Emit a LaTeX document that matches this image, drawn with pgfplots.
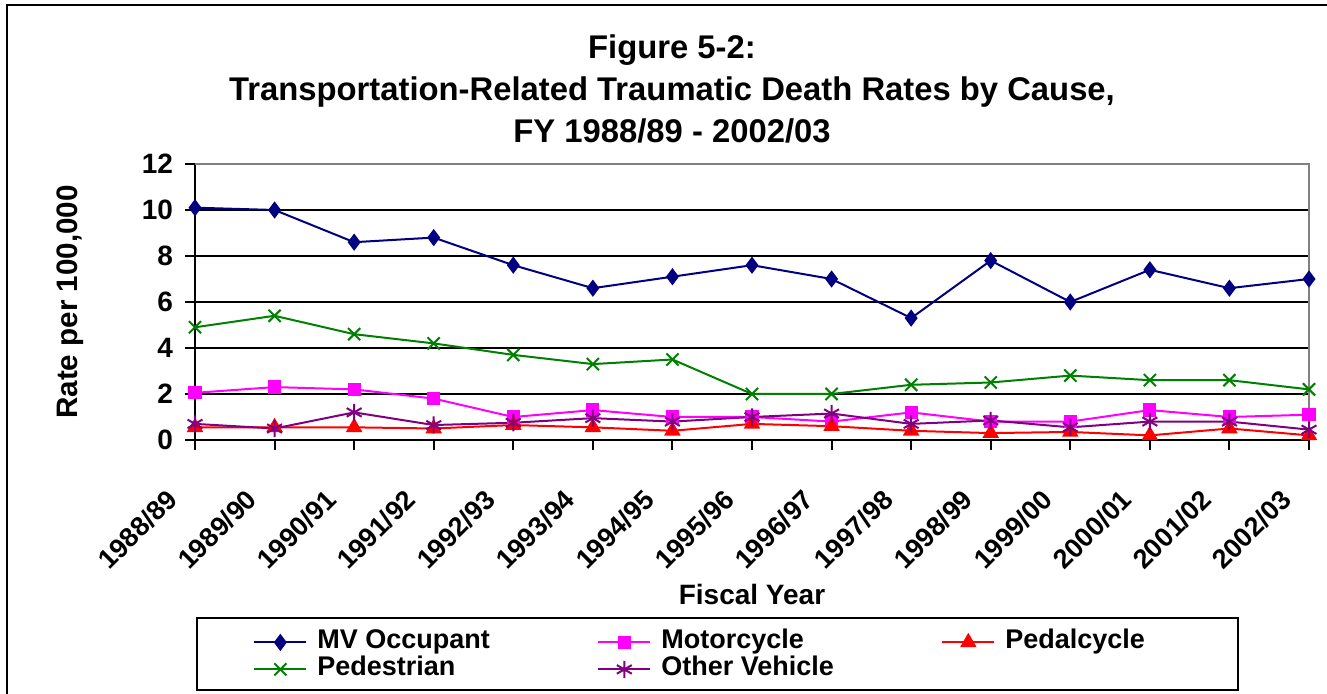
\documentclass[border=0pt]{standalone}
\usepackage{fontspec}
\setmainfont{Liberation Sans}
\usepackage{pgfplots}
\pgfplotsset{compat=1.18}
\definecolor{mvnavy}{HTML}{000080}
\definecolor{motomag}{HTML}{FF00FF}
\definecolor{pedred}{HTML}{FF0000}
\definecolor{walkgreen}{HTML}{008000}
\definecolor{othpurple}{HTML}{800080}

\begin{document}
\begin{tikzpicture}
\useasboundingbox (0,0) rectangle (663.5pt,347pt);
% outer chart frame (cut at right and bottom)
\draw[line width=1pt] (3.5pt,-5pt) -- (3.5pt,344.5pt) -- (670pt,344.5pt);
\node[align=center, font=\fontsize{16.4}{21}\selectfont\bfseries] at (336pt,302.5pt)
  {Figure 5-2:\\Transportation-Related Traumatic Death Rates by Cause,\\FY 1988/89 - 2002/03};

\begin{axis}[
  at={(97.5pt,127pt)}, anchor=south west,
  scale only axis, width=557pt, height=138pt,
  xmin=0, xmax=14, ymin=0, ymax=12,
  xtick={0,...,14},
  xticklabels={1988/89,1989/90,1990/91,1991/92,1992/93,1993/94,1994/95,1995/96,1996/97,1997/98,1998/99,1999/00,2000/01,2001/02,2002/03},
  ytick={0,2,...,12},
  axis x line*=bottom, axis y line*=left,
  axis line style={line width=1pt, -},
  ymajorgrids, grid style={black, line width=1pt},
  tick align=outside, major tick length=5pt,
  tick style={black, line width=1pt},
  clip=false,
  /pgf/number format/assume math mode=true,
  yticklabel style={font=\fontsize{14}{14}\selectfont\bfseries, xshift=-2.5pt},
  xticklabel style={font=\fontsize{13.5}{13.5}\selectfont\bfseries,
    xshift=-9pt, yshift=-20pt, rotate=45, anchor=east},
  xlabel={Fiscal Year},
  xlabel style={font=\fontsize{14}{14}\selectfont\bfseries,
    at={(axis description cs:0.5,-0.558)}, anchor=center},
  ylabel={Rate per 100,000},
  ylabel style={font=\fontsize{14.8}{14.8}\selectfont\bfseries,
    at={(axis description cs:-0.112,0.5)}, anchor=center},
  legend columns=3,
  legend cell align=left,
  legend image code/.code={
    \draw[mark repeat=2, mark phase=2, #1] plot coordinates {(0pt,0pt) (13pt,0pt) (26pt,0pt)};},
  legend style={at={(axis description cs:0.052,-0.683)}, anchor=north west,
    draw=none, fill=none, inner sep=0pt, column sep=5pt,
    font=\fontsize{13.5}{13.5}\selectfont\bfseries,
    nodes={inner xsep=0pt, inner ysep=0pt, text height=10pt, text depth=3.5pt}},
]
\addplot[color=mvnavy, line width=1pt, mark=diamond*, mark size=3.5pt,
  mark options={fill=mvnavy}] coordinates {
  (0,10.1) (1,10.0) (2,8.6) (3,8.8) (4,7.6) (5,6.6) (6,7.1) (7,7.6)
  (8,7.0) (9,5.3) (10,7.8) (11,6.0) (12,7.4) (13,6.6) (14,7.0)
};
\addlegendentry{\makebox[135pt][l]{MV Occupant}}
\addplot[color=motomag, line width=1pt, mark=square*, mark size=2.8pt,
  mark options={fill=motomag}] coordinates {
  (0,2.05) (1,2.3) (2,2.2) (3,1.8) (4,1.0) (5,1.3) (6,1.0) (7,1.0)
  (8,0.8) (9,1.2) (10,0.8) (11,0.8) (12,1.3) (13,1.0) (14,1.1)
};
\addlegendentry{\makebox[135pt][l]{Motorcycle}}
\addplot[color=pedred, line width=1pt, mark=triangle*, mark size=3.8pt,
  mark options={fill=pedred}] coordinates {
  (0,0.55) (1,0.55) (2,0.55) (3,0.5) (4,0.65) (5,0.55) (6,0.4) (7,0.7)
  (8,0.6) (9,0.4) (10,0.3) (11,0.35) (12,0.2) (13,0.5) (14,0.2)
};
\addlegendentry{Pedalcycle}
\addplot[color=walkgreen, line width=1pt, mark=x, mark size=4.3pt] coordinates {
  (0,4.9) (1,5.4) (2,4.6) (3,4.2) (4,3.7) (5,3.3) (6,3.5) (7,2.0)
  (8,2.0) (9,2.4) (10,2.5) (11,2.8) (12,2.6) (13,2.6) (14,2.2)
};
\addlegendentry{\makebox[135pt][l]{Pedestrian}}
\addplot[color=othpurple, line width=1pt, mark=asterisk, mark size=4.3pt] coordinates {
  (0,0.7) (1,0.5) (2,1.2) (3,0.65) (4,0.75) (5,0.95) (6,0.8) (7,1.0)
  (8,1.15) (9,0.7) (10,0.85) (11,0.55) (12,0.8) (13,0.8) (14,0.45)
};
\addlegendentry{\makebox[135pt][l]{Other Vehicle}}
% plot area border: grey on top and right
\draw[gray, line width=1pt] (rel axis cs:0,1) -- (rel axis cs:1,1) -- (rel axis cs:1,0);
\end{axis}
% legend frame
\draw[line width=1pt] (98.5pt,2pt) rectangle (619pt,38pt);
\end{tikzpicture}
\end{document}
